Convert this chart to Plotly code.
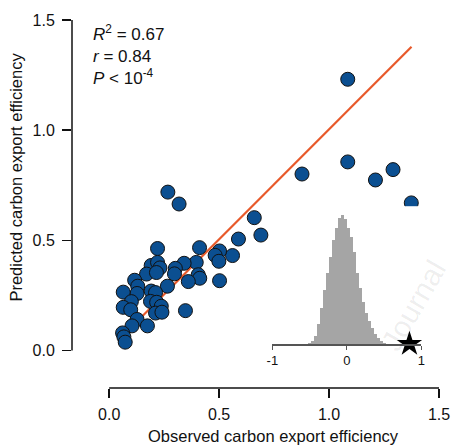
import plotly.graph_objects as go

# Observed vs predicted carbon export efficiency
observed = [1.085, 1.085, 1.211, 1.291, 1.374, 0.877, 0.877, 0.832, 0.660, 0.267,
            0.318, 0.690, 0.588, 0.561, 0.502, 0.482, 0.499, 0.502, 0.411, 0.396,
            0.341, 0.301, 0.297, 0.405, 0.412, 0.360, 0.220, 0.191, 0.220, 0.231,
            0.170, 0.215, 0.265, 0.116, 0.130, 0.127, 0.064, 0.191, 0.211, 0.188,
            0.216, 0.237, 0.211, 0.240, 0.101, 0.064, 0.098, 0.127, 0.104, 0.174,
            0.061, 0.067, 0.073, 0.347]
predicted = [1.231, 0.856, 0.774, 0.821, 0.670, 0.801, 0.606, 0.565, 0.603, 0.719,
             0.665, 0.524, 0.506, 0.431, 0.452, 0.432, 0.405, 0.317, 0.467, 0.400,
             0.396, 0.373, 0.348, 0.344, 0.328, 0.313, 0.463, 0.386, 0.400, 0.375,
             0.347, 0.354, 0.292, 0.319, 0.292, 0.259, 0.265, 0.270, 0.263, 0.223,
             0.219, 0.201, 0.170, 0.174, 0.222, 0.196, 0.185, 0.141, 0.112, 0.112,
             0.080, 0.062, 0.038, 0.181]

# Fitted line end points
fit_x = [0.147, 1.375]
fit_y = [0.152, 1.379]

# Inset: null distribution of r (histogram) and observed r
hist_centers = [-0.50, -0.46, -0.42, -0.38, -0.34, -0.30, -0.26, -0.22, -0.18, -0.14,
                -0.10, -0.06, -0.02, 0.02, 0.06, 0.10, 0.14, 0.18, 0.22, 0.26,
                0.30, 0.34, 0.38, 0.42, 0.46, 0.50]
hist_counts = [2, 8, 25, 60, 110, 165, 215, 265, 318, 355,
               385, 393, 380, 355, 325, 280, 215, 170, 128, 95,
               70, 50, 32, 18, 9, 3]
observed_r = [0.84]

x_ticks = [0.0, 0.5, 1.0, 1.5]
y_ticks = [0.0, 0.5, 1.0, 1.5]
x_ticklabels = ["0.0", "0.5", "1.0", "1.5"]
y_ticklabels = ["0.0", "0.5", "1.0", "1.5"]
inset_ticks = [-1, 0, 1]
inset_ticklabels = ["-1", "0", "1"]

FONT = "Liberation Sans, Arial, Helvetica, sans-serif"

fig = go.Figure()

fig.add_trace(go.Bar(
    x=hist_centers, y=hist_counts, width=0.04,
    marker=dict(color="#a5a5a5", line=dict(width=0)),
    xaxis="x2", yaxis="y2", hoverinfo="skip", showlegend=False,
))
fig.add_trace(go.Scatter(
    x=observed_r, y=[0], mode="markers",
    marker=dict(symbol="star", size=19, color="black"),
    xaxis="x2", yaxis="y2", cliponaxis=False, showlegend=False,
))
fig.add_trace(go.Scatter(
    x=fit_x, y=fit_y, mode="lines",
    line=dict(color="#e8592a", width=2.2), showlegend=False,
))
fig.add_trace(go.Scatter(
    x=observed, y=predicted, mode="markers",
    marker=dict(size=14, color="#0b4f91", line=dict(color="#111111", width=1)),
    cliponaxis=False, showlegend=False,
))

fig.update_layout(
    width=462, height=446, autosize=False,
    margin=dict(l=72, r=15, t=14, b=58, pad=0),
    paper_bgcolor="white", plot_bgcolor="white",
    font=dict(family=FONT, size=16, color="#111111"),
    bargap=0,
    xaxis=dict(
        range=[-0.169, 1.5], showgrid=False, zeroline=False, showline=False,
        tickmode="array", tickvals=x_ticks, ticktext=x_ticklabels,
        ticks="outside", ticklen=9, tickwidth=1.5, tickcolor="#111111",
        tickfont=dict(size=16), ticklabelstandoff=3,
    ),
    yaxis=dict(
        range=[-0.17, 1.5], showgrid=False, zeroline=False, showline=False,
        tickmode="array", tickvals=y_ticks, ticktext=y_ticklabels,
        ticks="outside", ticklen=9, tickwidth=1.5, tickcolor="#111111",
        tickfont=dict(size=16), ticklabelstandoff=4,
    ),
    xaxis2=dict(
        domain=[0.546, 0.952], anchor="y2", range=[-1, 1],
        showgrid=False, zeroline=False, showline=True, linecolor="#555555", linewidth=1.5,
        tickmode="array", tickvals=inset_ticks, ticktext=inset_ticklabels,
        ticks="outside", ticklen=4, tickcolor="#555555",
        tickfont=dict(size=13), ticklabelstandoff=0,
    ),
    yaxis2=dict(
        domain=[0.1195, 0.494], anchor="x2", range=[0, 420], visible=False,
    ),
    shapes=[
        dict(type="line", xref="x", yref="paper", x0=0, x1=1.5, y0=0, y1=0,
             line=dict(color="#111111", width=1.5)),
        dict(type="line", xref="paper", yref="y", x0=0, x1=0, y0=0, y1=1.5,
             line=dict(color="#111111", width=1.5)),
    ],
    annotations=[
        dict(text="<i>R</i><sup>2</sup> = 0.67<br><i>r</i> = 0.84<br><i>P</i> &lt; 10<sup>-4</sup>",
             xref="paper", yref="paper", x=0.053, y=1.0, xanchor="left", yanchor="top",
             align="left", showarrow=False, font=dict(size=17)),
        dict(text="Observed carbon export efficiency", xref="x", yref="paper",
             x=0.748, y=-0.131, xanchor="center", yanchor="middle",
             showarrow=False, font=dict(size=16.5)),
        dict(text="Predicted carbon export efficiency", xref="paper", yref="y",
             x=-0.152, y=0.786, xanchor="center", yanchor="middle", textangle=-90,
             showarrow=False, font=dict(size=16.5)),
        dict(text="Journal", xref="paper", yref="paper",
             x=0.93, y=0.225, xanchor="center", yanchor="middle", textangle=-60,
             showarrow=False, font=dict(size=30, color="rgba(0,0,0,0.07)")),
    ],
)

fig.write_html(
    "out.html",
    config={"displayModeBar": False, "staticPlot": True},
    post_script=(
        "document.documentElement.style.margin='0';"
        "document.documentElement.style.padding='0';"
        "document.documentElement.style.overflow='hidden';"
        "document.body.style.margin='0';document.body.style.padding='0';"
        "document.body.style.overflow='hidden';"
    ),
)
